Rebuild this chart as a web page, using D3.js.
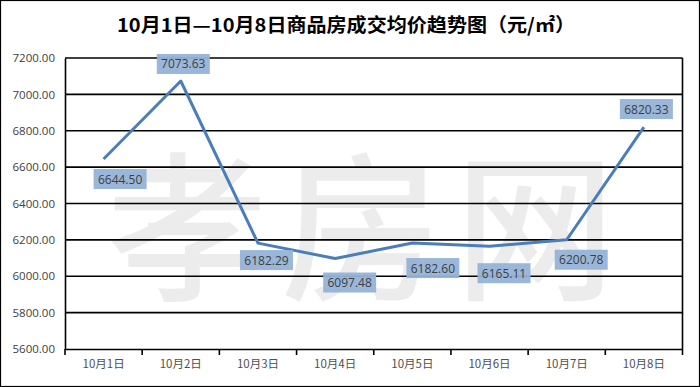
<!DOCTYPE html>
<html><head><meta charset="utf-8">
<script src="https://cdn.jsdelivr.net/npm/d3@7"></script>
<style>html,body{margin:0;padding:0;background:#fff;}svg{display:block;}</style>
</head><body>
<script>
const categories = ["10月1日","10月2日","10月3日","10月4日","10月5日","10月6日","10月7日","10月8日"];
const prices = [6644.50, 7073.63, 6182.29, 6097.48, 6182.60, 6165.11, 6200.78, 6820.33];
const yTicks = [5600, 5800, 6000, 6200, 6400, 6600, 6800, 7000, 7200];
const titleText = "10月1日—10月8日商品房成交均价趋势图（元/㎡）";
const watermark = "孝房网";
// label box offsets (top-left relative to point)
const labelOffsets = [[-10,10],[-24,-27],[-18,7],[-12,14],[-6,15],[-12,17],[-12,10],[-24,-28]];

const W = 700, H = 387;
const m = {left:65, right:17.5, top:58, bottom:38};
const svg = d3.select("body").append("svg").attr("width", W).attr("height", H);
svg.append("rect").attr("x",0.5).attr("y",0.5).attr("width",W-1).attr("height",H-1)
  .attr("fill","#fff").attr("stroke","#000").attr("stroke-width",1.2);

svg.append("text").attr("x",346).attr("y",32).attr("text-anchor","middle")
  .attr("font-family","'Noto Sans CJK SC', sans-serif").attr("font-weight","bold")
  .attr("font-size",19).attr("textLength",458).attr("lengthAdjust","spacingAndGlyphs")
  .attr("fill","#000").text(titleText);

const x = d3.scaleBand().domain(categories).range([m.left, W-m.right]);
const y = d3.scaleLinear().domain([5600,7200]).range([H-m.bottom, m.top]);

// watermark
svg.append("text").attr("x",368).attr("y",288).attr("text-anchor","middle")
  .attr("font-family","'Noto Sans CJK SC', sans-serif").attr("font-weight","500")
  .attr("font-size",160).attr("letter-spacing",14).attr("fill","#ececec").text(watermark);

// gridlines
svg.append("g").selectAll("line").data(yTicks.slice(1)).join("line")
  .attr("x1",m.left).attr("x2",W-m.right).attr("y1",d=>y(d)).attr("y2",d=>y(d))
  .attr("stroke","#000").attr("stroke-width",1.6);
// right border
svg.append("line").attr("x1",W-m.right).attr("x2",W-m.right).attr("y1",m.top).attr("y2",H-m.bottom)
  .attr("stroke","#000").attr("stroke-width",1.6);

// y axis
const yAxis = svg.append("g").attr("transform",`translate(${m.left},0)`)
  .call(d3.axisLeft(y).tickValues(yTicks).tickFormat(d3.format(".2f")).tickSize(0).tickPadding(10));
yAxis.select(".domain").attr("stroke","#000").attr("stroke-width",1.6);
yAxis.selectAll("text").attr("font-family","'Open Sans', 'DejaVu Sans', sans-serif").attr("font-size",11.5).attr("fill","#404040");

// x axis
const xAxis = svg.append("g").attr("transform",`translate(0,${H-m.bottom})`)
  .call(d3.axisBottom(x).tickSize(0).tickPadding(11));
xAxis.select(".domain").attr("stroke","#000").attr("stroke-width",1.6);
xAxis.selectAll("text").attr("font-family","'Noto Sans CJK SC', sans-serif").attr("font-size",11.5).attr("fill","#505050");
const bounds = categories.map(c=>x(c)).concat([W-m.right]);
xAxis.append("g").selectAll("line").data(bounds).join("line")
  .attr("x1",d=>d).attr("x2",d=>d).attr("y1",0).attr("y2",6)
  .attr("stroke","#000").attr("stroke-width",1.6);

// line
const cx = d => x(d) + x.bandwidth()/2;
const line = d3.line().x((d,i)=>cx(categories[i])).y(d=>y(d));
svg.append("path").datum(prices).attr("d",line).attr("fill","none")
  .attr("stroke","#4a7ebb").attr("stroke-width",3).attr("stroke-linejoin","round");

// labels
const lg = svg.append("g");
prices.forEach((v,i)=>{
  const px = cx(categories[i]), py = y(v);
  const [dx,dy] = labelOffsets[i];
  const g = lg.append("g").attr("transform",`translate(${px+dx},${py+dy})`);
  g.append("rect").attr("width",53).attr("height",20).attr("fill","#95b3d7").attr("fill-opacity",0.95);
  g.append("text").attr("x",26.5).attr("y",14.5).attr("text-anchor","middle")
    .attr("font-family","'Open Sans', 'DejaVu Sans', sans-serif").attr("font-size",12).attr("fill","#404040")
    .text(d3.format(".2f")(v));
});
</script>
</body></html>
